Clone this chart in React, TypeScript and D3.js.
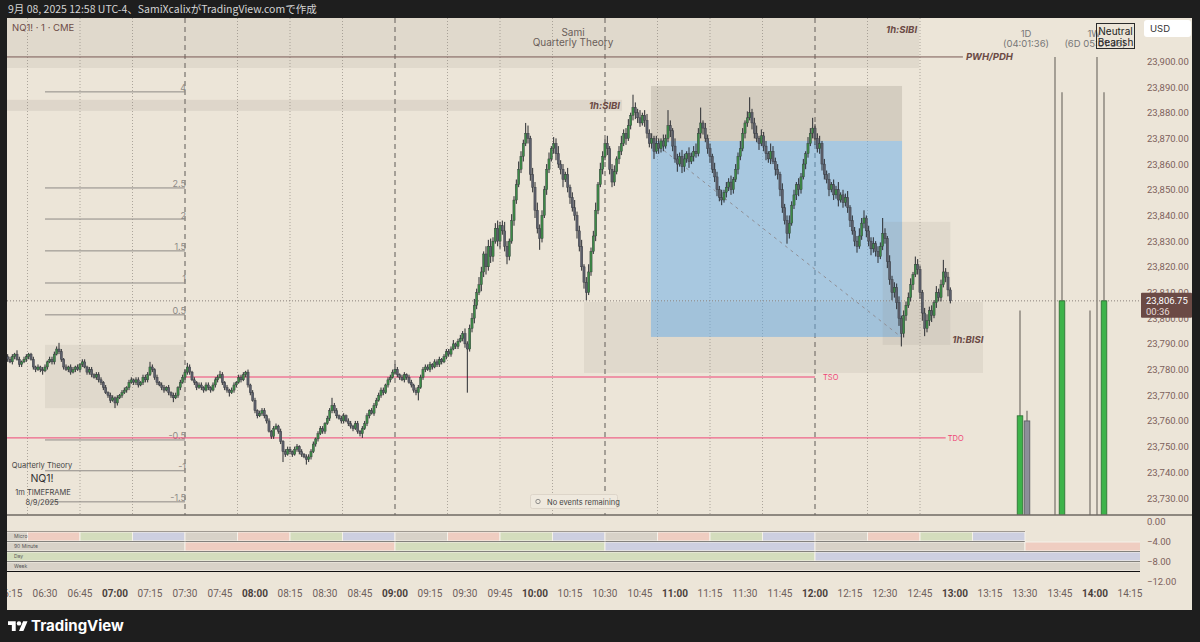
import React, { useEffect } from 'react';
import * as d3 from 'd3';

const W = 1200;
const H = 642;
const BASE = 23700;
const FIRST_MINUTE = 374; // 06:14
const FIRST_OPEN = 85;

// 1-minute closes, offset from BASE
const closes = [
  84, 83, 85, 86, 84, 82, 83, 84, 85, 86,
  84, 81, 80, 81, 80, 79.5, 81, 83, 84, 83,
  86, 88, 87, 84, 81, 80, 81, 79, 80, 81,
  80, 82, 83, 81, 79, 80, 78, 77, 78, 76,
  75, 73, 71, 70, 68, 69, 67, 69, 70, 71,
  72, 73, 75, 76, 75, 76, 74, 75, 77, 76,
  78, 81, 80, 77, 75, 74, 73, 72, 73, 71,
  70, 69, 70, 73, 75, 77, 79, 81, 79, 76,
  75, 73, 74, 73, 72, 74, 73, 72, 74, 76,
  77, 78, 75, 73, 72, 71, 72, 74, 75, 77,
  76, 78, 79, 74, 71, 68, 64, 62, 63, 64,
  62, 60, 56, 54, 57, 58, 56, 52, 48, 47,
  49, 48, 47, 49, 50, 48, 47, 46, 45, 46,
  48, 51, 53, 55, 57, 56, 59, 61, 64, 66,
  64, 62, 61, 60, 62, 60, 59, 58, 57, 59,
  56, 55, 57, 59, 62, 64, 63, 66, 68, 70,
  72, 71, 74, 76, 77, 79, 80, 78, 77, 76,
  78, 77, 75, 74, 72, 71, 73, 77, 80, 81,
  80, 82, 81, 83, 82, 84, 83, 85, 87, 86,
  88, 90, 89, 91, 92, 94, 90, 88, 96, 100,
  105, 110, 113, 118, 125, 120, 128, 124, 130, 135,
  130, 136, 134, 128, 124, 130, 138, 146, 152, 158,
  163, 168, 172, 170, 156, 151, 142, 135, 131, 140,
  150, 158, 162, 166, 168, 164, 160, 158, 154, 156,
  151, 147, 143, 140, 134, 128, 120, 114, 110, 118,
  126, 132, 142, 152, 158, 163, 168, 166, 158, 153,
  157, 162, 165, 168, 172, 170, 175, 179, 182, 180,
  178, 176, 179, 177, 172, 168, 170, 165, 168, 166,
  169, 167, 170, 175, 173, 167, 162, 160, 163, 159,
  162, 164, 161, 163, 165, 164, 172, 176, 174, 170,
  166, 163, 158, 155, 150, 147, 146, 149, 151, 153,
  150, 154, 158, 163, 166, 172, 176, 178, 180, 176,
  172, 170, 168, 171, 167, 164, 162, 165, 161, 158,
  156, 150, 143, 138, 133, 137, 144, 148, 152, 150,
  155, 160, 164, 168, 172, 174, 170, 166, 168, 160,
  156, 154, 150, 152, 148, 150, 146, 148, 145, 147,
  143, 138, 134, 130, 128, 132, 137, 139, 134, 130,
  127, 129, 126, 124, 128, 133, 131, 122, 115, 110,
  112, 106, 100, 94, 101, 105, 108, 113, 117, 121,
  119, 110, 102, 96, 99, 103, 101, 106, 110, 108,
  113, 118, 116, 111, 106.75,
];

const wickUp = [
  1, 1, 1, 0.5, 1.5, 1, 0.5, 1, 1, 0.5,
  0.5, 1, 0.5, 1, 0.5, 1, 1, 0.5, 1, 1,
  1, 1, 2.4, 1, 0.5, 1, 0.5, 1, 1, 0.5,
  1, 0.5, 1, 1, 0.5, 1, 1, 0.5, 1, 1,
  1, 0.5, 1, 0.5, 1, 1, 0.5, 1, 0.5, 1,
  1, 0.5, 1, 1, 0.5, 1, 1, 0.5, 1, 1,
  1, 2, 1, 0.5, 1, 0.5, 1, 1, 0.5, 1,
  0.5, 1, 1, 0.5, 1, 1, 1, 1.6, 1, 0.5,
  1, 0.5, 1, 1, 0.5, 1, 1, 0.5, 1, 1,
  1, 1.5, 1, 0.5, 1, 0.5, 1, 1, 0.5, 1,
  1, 1, 0.5, 1, 0.5, 1, 1, 0.5, 1, 1,
  1, 0.5, 1, 0.5, 1, 1, 0.5, 1, 0.5, 1,
  1, 1, 0.5, 1, 1, 0.5, 1, 0.5, 1, 1,
  1, 1, 0.5, 1, 1, 1, 0.5, 1, 1, 3,
  1, 1, 0.5, 1, 1, 0.5, 1, 1, 0.5, 1,
  1, 0.5, 1, 1, 1, 0.5, 1, 1, 1, 1,
  1, 1, 0.5, 1, 1, 1, 2, 1, 0.5, 1,
  1, 0.5, 1, 1, 0.5, 1, 1, 1, 1, 1,
  1, 1, 0.5, 1, 1, 1, 0.5, 1, 1, 1,
  1, 1.5, 0.5, 1, 1.5, 1, 2, 1, 1.5, 2,
  2.5, 1.5, 3, 2, 1, 3, 2.5, 3, 1.5, 2,
  3, 1.5, 2, 3.5, 2, 1, 2.5, 1.5, 2, 3,
  2, 1.5, 4, 3, 1, 2.5, 2, 3, 1.5, 2,
  1.5, 2, 2.5, 1, 2.5, 2, 3, 1.5, 2, 1,
  2.5, 1, 2, 3, 1.5, 2, 2.5, 1, 2, 3,
  1.5, 2, 3, 1, 2.5, 2, 1.5, 3, 1, 2,
  2.5, 1, 2, 3, 1.5, 2, 2.5, 1, 5, 2,
  1.5, 3, 1, 2, 2.5, 1.5, 2, 1, 3, 2,
  1, 2.5, 1.5, 6, 2, 1, 3, 2, 1.5, 2.5,
  2, 1, 2.5, 1.5, 2, 3, 2, 6, 1, 2,
  1.5, 2, 1, 2.5, 2, 1.5, 3, 1, 2, 1.5,
  2.5, 1, 2, 1.5, 3, 2, 1, 2.5, 6, 1.5,
  2, 3, 1, 2.5, 1.5, 2, 1, 3, 2, 1.5,
  2, 1, 2.5, 1.5, 2, 3, 1.5, 2, 1, 2.5,
  1.5, 2, 1, 2.5, 2, 4, 1.5, 2, 3, 1,
  2, 1.5, 2.5, 1, 2, 1.5, 3, 1, 2, 1.5,
  2.5, 1, 2, 1.5, 2, 3, 2, 3, 1, 2,
  1.5, 2.5, 1, 2, 1.5, 6, 2, 1, 2.5, 1.5,
  2, 1.5, 2.5, 1, 2, 1.5, 2, 2.5, 1, 3,
  2, 1.5, 1, 2, 2.5, 1.5, 2, 1, 2.5, 1.5,
  2, 4.7, 1.5, 2, 1,
];

const wickDn = [
  1, 0.5, 1, 1, 0.5, 1, 1, 0.5, 1, 1,
  0.5, 1, 1, 0.5, 1, 1.5, 0.5, 1, 0.5, 1,
  1, 0.5, 1, 1, 1, 0.5, 1, 1, 0.5, 1,
  0.5, 1, 1, 0.5, 1, 1, 1, 0.5, 1, 1,
  1, 1, 0.5, 1, 1, 0.5, 2, 1, 0.5, 1,
  0.5, 1, 1, 0.5, 1, 1, 1, 0.5, 1, 1,
  1, 0.5, 1, 1, 1, 0.5, 1, 1, 0.5, 1,
  1, 1.7, 0.5, 1, 1, 0.5, 1, 1, 1, 0.5,
  1, 1, 0.5, 1, 1, 0.5, 1, 1, 0.5, 1,
  1, 0.5, 1, 1, 1, 1.5, 0.5, 1, 1, 0.5,
  1, 0.5, 1, 1, 1, 0.5, 1, 1, 0.5, 1,
  1, 1, 0.5, 1, 1, 0.5, 1, 1, 4, 1,
  0.5, 1, 1, 0.5, 1, 1, 1, 0.5, 2, 1,
  1, 0.5, 1, 1, 0.5, 1, 1, 0.5, 1, 1,
  1, 1, 0.5, 1, 1, 0.5, 1, 1, 1, 0.5,
  1, 1, 1.6, 0.5, 1, 1, 0.5, 1, 1, 0.5,
  1, 1, 0.5, 1, 1, 0.5, 1, 1, 1, 0.5,
  1, 1, 0.5, 1, 1, 1, 3, 0.5, 1, 1,
  0.5, 1, 1, 0.5, 1, 1, 1, 0.5, 1, 1,
  1, 0.5, 1, 1, 0.5, 1, 1.5, 17, 1, 1.5,
  2, 1.5, 1, 2.5, 2, 3, 1.5, 2.5, 2, 1,
  2, 3, 1.5, 2, 3, 1.5, 1, 2, 1.5, 1,
  1.5, 2, 1, 2, 2.5, 2, 3, 2, 4.4, 1.5,
  1, 2, 1.5, 1, 2, 2.5, 1.5, 2, 3, 1,
  2, 2.5, 1.5, 2, 3, 2, 1.5, 2.5, 3, 1,
  1.5, 1, 2, 1.5, 1, 2, 1.5, 2.5, 2, 2,
  1.5, 1, 2, 1.5, 1, 2.5, 1, 1.5, 2, 2.5,
  2, 1.5, 1, 2.5, 2, 1.5, 2, 3, 1, 2,
  1.5, 2, 1, 1.5, 2.5, 2, 1.5, 3, 1, 2.5,
  2, 1.5, 2.5, 1, 2, 1.5, 1, 2, 2.5, 1.5,
  2, 2.5, 1.5, 2, 2.5, 1.5, 2, 1, 2, 1.5,
  2, 1.5, 1, 2, 1.5, 1, 2, 1.5, 1, 2.5,
  2, 1.5, 2.5, 1, 2, 2.5, 1.5, 2, 1, 2.5,
  2, 2.5, 2, 1.5, 4, 2, 1, 1.5, 2, 2.5,
  1.5, 1, 2, 1.5, 1, 2, 2.5, 1.5, 2, 2.5,
  2, 1.5, 2.5, 1, 2, 1.5, 2.5, 1, 2, 1.5,
  2, 2.5, 1.5, 2, 2.5, 1, 1.5, 2, 2.5, 2,
  2.5, 1.5, 2, 2.5, 1, 1.5, 2, 2.5, 2, 3,
  2, 2.5, 3, 5, 1.5, 2, 1, 1.5, 2, 1,
  2, 2.5, 3, 3, 1.5, 2, 2.5, 1, 2, 1.5,
  1.5, 1, 2, 2.5, 1,
];

const priceTicks = [23730, 23740, 23750, 23760, 23770, 23780, 23790, 23800, 23810, 23820, 23830, 23840, 23850, 23860, 23870, 23880, 23890, 23900];
const paneTicks = [0, -4, -8, -12];
const timeLabels = ['06:15', '06:30', '06:45', '07:00', '07:15', '07:30', '07:45', '08:00', '08:15', '08:30', '08:45', '09:00', '09:15', '09:30', '09:45', '10:00', '10:15', '10:30', '10:45', '11:00', '11:15', '11:30', '11:45', '12:00', '12:15', '12:30', '12:45', '13:00', '13:15', '13:30', '13:45', '14:00', '14:15'];

// Quarterly theory levels (left)
const levelLabels = ['4', '2.5', '2', '1.5', '1', '0.5', '-0.5', '-1', '-1.5'];
const levelPrices = [23888.1, 23850.7, 23838.6, 23826.2, 23813.7, 23801.3, 23752.6, 23740.6, 23728.5];
const levelStart = 390; // 06:30
const levelEnd = 450; // 07:30

// zones: [t0, t1, pLow, pHigh]
const zoneTopBand = [300, 764.6, 23897.4, 23930];
const zoneSibi = [300, 637.3, 23880.7, 23885];
const zoneLeft = [390, 450, 23765, 23789.6];
const zoneLower = [621, 792, 23778.7, 23806.3];
const zoneGrayTop = [649.7, 757.3, 23869, 23890.4];
const zoneBlue = [649.7, 757.3, 23792.7, 23869];
const zoneSmall = [749, 778, 23789.6, 23837.5];

const diagonal = [[650.6, 23868.6], [756.9, 23792.7]];
const pwhPrice = 23901.7;
const pwhEnd = 783.4;
const tsoPrice = 23777.1;
const tsoRange = [450, 720];
const tdoPrice = 23753.4;
const tdoEnd = 776;
const lastPrice = 23806.75;
const gridFrom = 382.5;
const gridTo = 765;

// Quarter cycle cells (bottom pane)
const microStart = 360;
const microLen = 22.5;
const microColors = ['gray', 'pink', 'green', 'blue', 'gray', 'pink', 'green', 'blue', 'gray', 'pink', 'green', 'blue', 'gray', 'pink', 'green', 'blue', 'gray', 'pink', 'green', 'blue'];
const m90Len = 90;
const m90Colors = ['gray', 'pink', 'green', 'blue', 'gray', 'pink'];
const dayLen = 360;
const dayColors = ['green', 'blue'];
const weekColors = ['gray'];
const rowNames = ['Micro', '90 Minute', 'Day', 'Week'];

// HTF candles (1D / 1W)
const htfSlots = [0, 1, 5, 6, 10, 11, 12];
const htfO = [23700, 23760, 23690, 23700, 23690, 23695, 23700];
const htfH = [23803, 23764, 23901.7, 23888, 23803, 23901.7, 23888];
const htfL = [23650, 23650, 23600, 23650, 23640, 23600, 23650];
const htfC = [23762, 23700, 23715, 23806.75, 23710, 23715, 23806.75];

const palette: Record<string, string> = {
  pink: '#efcdc1',
  green: '#d4ddbd',
  blue: '#cdcfe0',
  gray: '#d8d2c8',
};

const BG = '#ece5d8';
const DARK = '#1e1e1e';
const FONT = "Inter, Roboto, 'Noto Sans', sans-serif";
const AXFONT = "Roboto, 'Noto Sans', sans-serif";

function fmtPrice(p: number) {
  return d3.format(',.2f')(p);
}

export default function App() {
  useEffect(() => {
    document.body.style.margin = '0';
  }, []);

  const x = d3.scaleLinear().domain([420, 780]).range([115, 955]);
  const y = d3.scaleLinear().domain([23730, 23890]).range([498, 87]);
  const yP = d3.scaleLinear().domain([0, -12]).range([521, 581]);

  const left = 7;
  const right = 1140;
  const top = 18;
  const paneTop = 515;

  const candles = closes.map((c, i) => {
    const o = i === 0 ? FIRST_OPEN : closes[i - 1];
    const h = Math.max(o, c) + (wickUp[i] ?? 1);
    const l = Math.min(o, c) - (wickDn[i] ?? 1);
    return { t: FIRST_MINUTE + i, o: BASE + o, h: BASE + h, l: BASE + l, c: BASE + c };
  });

  const zoneRect = (z: number[], fill: string, key: string) => (
    <rect key={key} x={x(z[0])} y={y(z[3])} width={x(z[1]) - x(z[0])} height={y(z[2]) - y(z[3])} fill={fill} />
  );

  const gridTimes = d3.range(gridFrom, gridTo + 0.1, 22.5);

  const toMin = (s: string) => {
    const [hh, mm] = s.split(':').map(Number);
    return hh * 60 + mm;
  };

  const rows = [
    { name: rowNames[0], v0: -2.2, v1: -4, start: microStart, len: microLen, colors: microColors },
    { name: rowNames[1], v0: -4.2, v1: -6, start: microStart, len: m90Len, colors: m90Colors },
    { name: rowNames[2], v0: -6.2, v1: -8, start: microStart, len: dayLen, colors: dayColors },
    { name: rowNames[3], v0: -8.2, v1: -10, start: microStart, len: 1000, colors: weekColors },
  ];

  const bodyW = 2.2;

  return (
    <svg width={W} height={H} style={{ position: 'absolute', left: 0, top: 0, display: 'block' }} fontFamily={FONT}>
      <defs>
        <clipPath id="main">
          <rect x={left} y={top} width={right - left} height={paneTop - top} />
        </clipPath>
        <clipPath id="pane">
          <rect x={left} y={paneTop} width={right - left} height={70} />
        </clipPath>
      </defs>
      <rect x={0} y={0} width={W} height={H} fill={BG} />

      <g clipPath="url(#main)">
        {/* grid */}
        {gridTimes.map((t) => {
          const dashed = (t - 360) % 90 === 0;
          return (
            <line key={'g' + t} x1={x(t)} x2={x(t)} y1={top} y2={paneTop}
              stroke={dashed ? '#5e5a56' : '#aca59b'} strokeWidth={1}
              strokeDasharray={dashed ? '5,4' : '1,2'} />
          );
        })}
        {/* zones */}
        {zoneRect(zoneTopBand, 'rgba(140,130,120,0.12)', 'ztb')}
        {zoneRect(zoneSibi, 'rgba(140,130,120,0.14)', 'zs')}
        {zoneRect(zoneLeft, 'rgba(140,130,120,0.12)', 'zl')}
        {zoneRect(zoneLower, 'rgba(140,130,120,0.12)', 'zlo')}
        {zoneRect(zoneGrayTop, 'rgba(120,110,100,0.2)', 'zg')}
        {zoneRect(zoneBlue, 'rgba(100,172,232,0.5)', 'zb')}
        {zoneRect(zoneSmall, 'rgba(140,130,120,0.12)', 'zsm')}

        {/* levels */}
        {levelPrices.map((p, i) => (
          <g key={'lv' + i}>
            <line x1={x(levelStart)} x2={x(levelEnd)} y1={y(p)} y2={y(p)} stroke="#8e8a86" strokeWidth={1} />
            <text x={x(levelEnd) + 1} y={y(p) - 0.5} fontSize={9} fill="#8e8a86" textAnchor="end">{levelLabels[i]}</text>
          </g>
        ))}

        {/* key lines */}
        <line x1={left} x2={x(pwhEnd)} y1={y(pwhPrice)} y2={y(pwhPrice)} stroke="#7a5a55" strokeWidth={1} />
        <line x1={x(tsoRange[0])} x2={x(tsoRange[1])} y1={y(tsoPrice)} y2={y(tsoPrice)} stroke="#ef4577" strokeWidth={1} />
        <line x1={left} x2={x(tdoEnd)} y1={y(tdoPrice)} y2={y(tdoPrice)} stroke="#ef4577" strokeWidth={1} />
        <line x1={left} x2={right} y1={y(lastPrice)} y2={y(lastPrice)} stroke="#8a817a" strokeWidth={1} strokeDasharray="1,2" />
        <line x1={x(diagonal[0][0])} y1={y(diagonal[0][1])} x2={x(diagonal[1][0])} y2={y(diagonal[1][1])}
          stroke="#8f8f96" strokeWidth={1} strokeDasharray="3,4" />

        {/* candles */}
        {candles.map((d) => {
          const cx = x(d.t);
          const up = d.c >= d.o;
          const yTop = y(Math.max(d.o, d.c));
          const yBot = y(Math.min(d.o, d.c));
          return (
            <g key={'c' + d.t}>
              <line x1={cx} x2={cx} y1={y(d.h)} y2={y(d.l)} stroke="#2a2c31" strokeWidth={1} />
              <rect x={cx - bodyW / 2} y={yTop} width={bodyW} height={Math.max(1, yBot - yTop)}
                fill={up ? '#3d8a47' : '#5c5f6b'} stroke="#33353b" strokeWidth={0.4} />
            </g>
          );
        })}

        {/* HTF candles */}
        {htfSlots.map((s, i) => {
          const cx = 1020 + s * 7;
          const o = htfO[i], c = htfC[i];
          const up = c >= o;
          const yT = y(Math.max(o, c));
          const yB = y(Math.min(o, c));
          return (
            <g key={'h' + i}>
              <line x1={cx} x2={cx} y1={y(htfH[i])} y2={y(htfL[i])} stroke="#938d85" strokeWidth={1.6} />
              <rect x={cx - 2.8} y={yT} width={5.6} height={Math.max(1, yB - yT)}
                fill={up ? '#3db34a' : '#8d8f99'} stroke={up ? '#2c6b31' : '#55565e'} strokeWidth={0.8} />
            </g>
          );
        })}

        {/* zone labels */}
        <text x={x(zoneTopBand[1]) - 2} y={33} fontSize={9.5} fontStyle="italic" fontWeight={700} fill="#6b4a45" textAnchor="end">1h:SIBI</text>
        <text x={x(zoneSibi[1]) - 2} y={109} fontSize={9.5} fontStyle="italic" fontWeight={700} fill="#6b4a45" textAnchor="end">1h:SIBI</text>
        <text x={x(zoneSmall[1]) + 2} y={343} fontSize={9.5} fontStyle="italic" fontWeight={700} fill="#6b4a45">1h:BISI</text>
        <text x={x(pwhEnd) + 3} y={60} fontSize={9.5} fontStyle="italic" fontWeight={700} fill="#6b4a45">PWH/PDH</text>
        <text x={x(tsoRange[1]) + 8} y={380} fontSize={7.5} fill="#ef4577">TSO</text>
        <text x={x(tdoEnd) + 2} y={441} fontSize={7.5} fill="#ef4577">TDO</text>

        {/* header texts */}
        <text x={12} y={31} fontSize={9.5} fill="#6d4c47">NQ1! · 1 · CME</text>
        <text x={573} y={36} fontSize={10} fill="#6b5e5a" textAnchor="middle">Sami</text>
        <text x={573} y={46} fontSize={10} fill="#6b5e5a" textAnchor="middle">Quarterly Theory</text>

        {/* HTF labels */}
        <text x={1026} y={37} fontSize={9.5} fill="#777" textAnchor="middle">1D</text>
        <text x={1026} y={46.5} fontSize={9.5} fill="#777" textAnchor="middle">(04:01:36)</text>
        <text x={1094} y={37} fontSize={9.5} fill="#777" textAnchor="middle">1W</text>
        <text x={1095} y={46.5} fontSize={9.5} fill="#777" textAnchor="middle">(6D 05:01:36)</text>
        <rect x={1096.5} y={23.5} width={38} height={25} fill="none" stroke="#2a2a2a" strokeWidth={1} />
        <text x={1115.5} y={35} fontSize={10} fill="#222" textAnchor="middle">Neutral</text>
        <text x={1115.5} y={45.5} fontSize={10} fill="#222" textAnchor="middle">Bearish</text>

        {/* info block */}
        <text x={42} y={468} fontSize={7.5} fill="#444" textAnchor="middle">Quarterly Theory</text>
        <text x={42} y={482} fontSize={10.5} fill="#333" textAnchor="middle">NQ1!</text>
        <text x={43} y={495} fontSize={7.5} fill="#444" textAnchor="middle">1m TIMEFRAME</text>
        <text x={42} y={505} fontSize={7.5} fill="#444" textAnchor="middle">8/9/2025</text>

        {/* No events */}
        <rect x={530.5} y={494.5} width={87} height={14} fill="#efe9de" stroke="#ddd5c9" rx={2} />
        <circle cx={538} cy={501.5} r={2.2} fill="none" stroke="#777" strokeWidth={0.8} />
        <text x={547} y={504.5} fontSize={7.5} fill="#444">No events remaining</text>
      </g>

      {/* pane separator */}
      <line x1={left} x2={1192} y1={paneTop} y2={paneTop} stroke="#6f6963" strokeWidth={1.5} />

      {/* bottom pane */}
      <g clipPath="url(#pane)">
        {rows.map((r, ri) => {
          const rowEnd = ri === 0 ? 810 : 1000;
          const cells = r.colors.map((c, ci) => {
            const t0 = r.start + ci * r.len;
            const t1 = Math.min(t0 + r.len, rowEnd);
            return (
              <rect key={'cell' + ri + '-' + ci} x={x(t0)} y={yP(r.v0)} width={x(t1) - x(t0)} height={yP(r.v1) - yP(r.v0)}
                fill={palette[c]} stroke="#f6f2ea" strokeWidth={1} />
            );
          });
          const xEnd = Math.min(x(rowEnd), right);
          return (
            <g key={'row' + ri}>
              {cells}
              <line x1={left} x2={xEnd} y1={yP(r.v1) + 0.5} y2={yP(r.v1) + 0.5} stroke="#111" strokeWidth={1.2} />
              <text x={14} y={yP(r.v0) + 6.3} fontSize={5} fill="#555">{r.name}</text>
            </g>
          );
        })}
        <line x1={left} x2={x(810)} y1={yP(-2.2) - 0.5} y2={yP(-2.2) - 0.5} stroke="#8a847c" strokeWidth={0.8} />
      </g>

      {/* price axis */}
      {priceTicks.map((p) => (
        <text key={'pt' + p} x={1147} y={y(p) + 3.5} fontSize={9.5} fill="#7d615b" fontFamily={AXFONT}>{fmtPrice(p)}</text>
      ))}
      {paneTicks.map((v) => (
        <text key={'pp' + v} x={1147} y={yP(v) + 3.5} fontSize={9.5} fill="#7d615b" fontFamily={AXFONT}>{(v < 0 ? '−' : '') + Math.abs(v).toFixed(2)}</text>
      ))}
      <rect x={1141} y={y(lastPrice) - 8} width={51} height={25} fill="#6b4a45" rx={1} />
      <text x={1146} y={y(lastPrice) + 3.5} fontSize={9.5} fill="#fff" fontFamily={AXFONT}>{fmtPrice(lastPrice)}</text>
      <text x={1146} y={y(lastPrice) + 14} fontSize={9.5} fill="#e8dcd8" fontFamily={AXFONT}>00:36</text>
      <rect x={1144} y={20} width={47} height={17} fill="#fff" rx={3} />
      <text x={1150} y={32} fontSize={9.5} fill="#333">USD</text>

      {/* time axis */}
      {timeLabels.map((s) => {
        const m = toMin(s);
        const bold = m % 60 === 0;
        return (
          <text key={'tl' + s} x={x(m)} y={597} fontSize={10} fill={bold ? '#4a3f3c' : '#6e605c'} fontWeight={bold ? 700 : 400} textAnchor="middle" fontFamily={AXFONT}>{s}</text>
        );
      })}

      {/* frame */}
      <rect x={0} y={0} width={W} height={top} fill={DARK} />
      <rect x={0} y={610} width={W} height={H - 610} fill={DARK} />
      <rect x={0} y={0} width={left} height={H} fill={DARK} />
      <rect x={1192} y={0} width={W - 1192} height={H} fill={DARK} />

      <text x={8} y={13} fontSize={10.5} fill="#d4d4d4" fontFamily="'Noto Sans CJK JP', 'Noto Sans', sans-serif">9月 08, 2025 12:58 UTC-4、SamiXcalixがTradingView.comで作成</text>

      {/* logo */}
      <g transform="translate(8,619) scale(0.55)" fill="#fff">
        <path d="M14 22H7V11H0V4h14v18z" />
        <path d="M28 22h-8l7.5-18h8L28 22z" />
        <circle cx={20} cy={8} r={4} />
      </g>
      <text x={31} y={631} fontSize={15} fontWeight={700} fill="#fff" fontFamily="Inter, Roboto, sans-serif">TradingView</text>
    </svg>
  );
}
